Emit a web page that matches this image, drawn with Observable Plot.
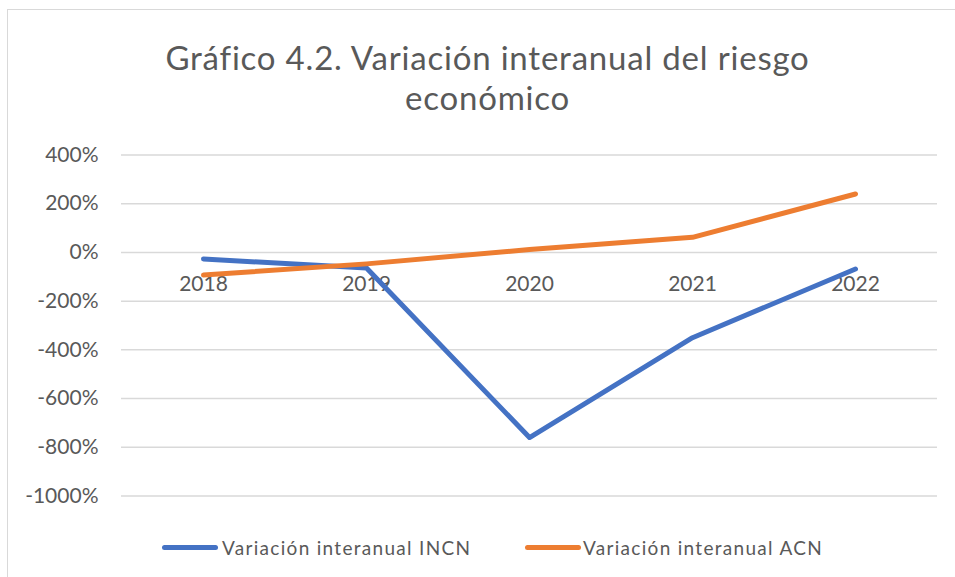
<!DOCTYPE html>
<html>
<head>
<meta charset="utf-8">
<script src="https://cdn.jsdelivr.net/npm/d3@7"></script>
<script src="https://cdn.jsdelivr.net/npm/@observablehq/plot@0.6"></script>
<style>
  html, body { margin: 0; padding: 0; background: #fff; }
  #wrap { position: relative; width: 955px; height: 577px; overflow: hidden; font-family: Lato, "Open Sans", sans-serif; color: #595959; }
  #frameTop { position: absolute; left: 7px; top: 9px; width: 960px; height: 0; border-top: 1.5px solid #d9d9d9; }
  #frameLeft { position: absolute; left: 7px; top: 9px; width: 0; height: 600px; border-left: 1.5px solid #d9d9d9; }
  #title { position: absolute; left: 0; top: 37px; width: 975px; text-align: center; font-size: 33px; letter-spacing: 0.8px; line-height: 40px; color: #595959; }
  #chart { position: absolute; left: 0; top: 0; }
  .leg { position: absolute; top: 537px; font-size: 19px; line-height: 22px; white-space: nowrap; letter-spacing: 1.3px; }
  .sw { position: absolute; top: 545px; height: 5px; width: 56px; border-radius: 3px; }
</style>
</head>
<body>
<div id="wrap">
  <div id="frameTop"></div>
  <div id="frameLeft"></div>
  <div id="chart"></div>
  <div id="title">Gráfico 4.2. Variación interanual del riesgo<br>económico</div>
  <div id="legend"></div>
</div>
<script>
const years = ["2018", "2019", "2020", "2021", "2022"];
const incn = [-27, -64, -760, -350, -68];
const acn = [-93, -47, 12, 62, 240];
const seriesNames = ["Variación interanual INCN", "Variación interanual ACN"];
const seriesColors = ["#4472C4", "#ED7D31"];
const yTicks = [400, 200, 0, -200, -400, -600, -800, -1000];

const data = [];
years.forEach((y, i) => {
  data.push({year: y, value: incn[i], series: seriesNames[0]});
  data.push({year: y, value: acn[i], series: seriesNames[1]});
});

const plot = Plot.plot({
  width: 955,
  height: 577,
  marginLeft: 121,
  marginRight: 18,
  marginTop: 154.5,
  marginBottom: 81.5,
  style: {fontFamily: "Lato, 'Open Sans', sans-serif", background: "transparent", color: "#595959"},
  x: {type: "point", domain: years, padding: 0.5, axis: null},
  y: {domain: [-1000, 400], ticks: yTicks, tickFormat: d => d + "%", tickSize: 0, tickPadding: 23, label: null, grid: false},
  color: {domain: seriesNames, range: seriesColors},
  marks: [
    Plot.ruleY(yTicks, {stroke: "#d9d9d9", strokeWidth: 1.5, strokeOpacity: 1}),
    Plot.axisY({ticks: yTicks, tickFormat: d => d + "%", tickSize: 0, tickPadding: 23, fontSize: 21, label: null, fill: "#595959"}),
    Plot.text(years, {x: d => d, y: 0, dy: 32, text: d => d, fontSize: 21, fill: "#595959"}),
    Plot.line(data, {x: "year", y: "value", z: "series", stroke: "series", strokeWidth: 5, strokeLinecap: "round", strokeLinejoin: "round"})
  ]
});
document.getElementById("chart").appendChild(plot);

const legend = document.getElementById("legend");
const legPos = [{sw: 162, tx: 222}, {sw: 525, tx: 583}];
seriesNames.forEach((n, i) => {
  const sw = document.createElement("div");
  sw.className = "sw";
  sw.style.left = legPos[i].sw + "px";
  sw.style.background = seriesColors[i];
  legend.appendChild(sw);
  const t = document.createElement("div");
  t.className = "leg";
  t.style.left = legPos[i].tx + "px";
  t.textContent = n;
  legend.appendChild(t);
});
</script>
</body>
</html>
